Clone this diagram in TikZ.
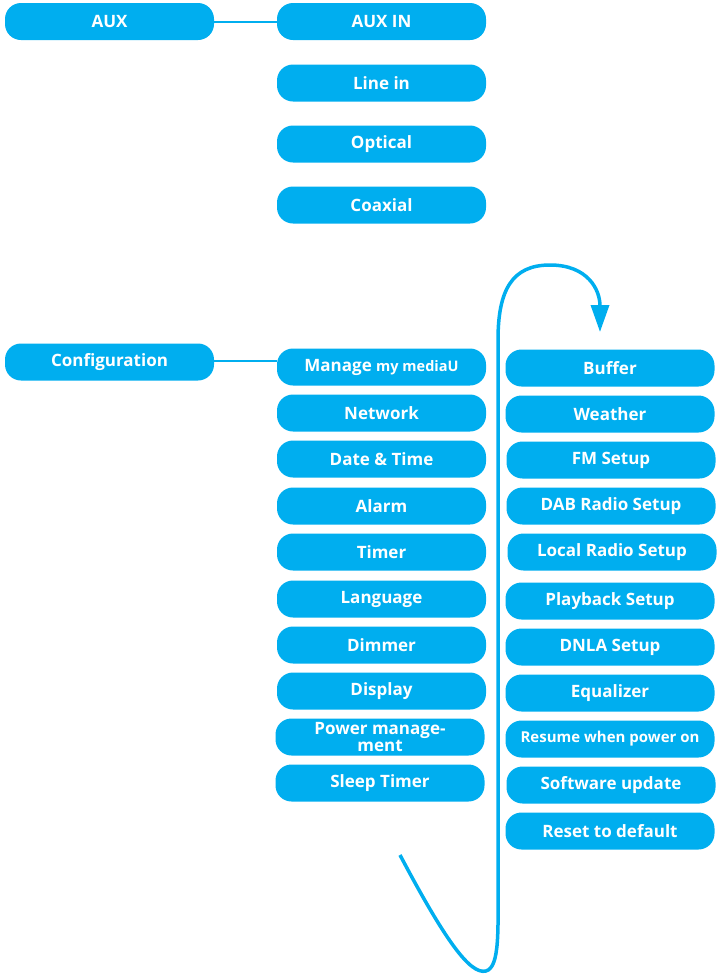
\documentclass[tikz,border=0pt]{standalone}
\usepackage{fontspec}
\setmainfont{Open Sans}
\usetikzlibrary{arrows.meta}
\definecolor{cy}{RGB}{0,174,239}
\begin{document}
\begin{tikzpicture}[x=1pt,y=-1pt,
  menu/.style={fill=cy,draw=none,rounded corners=16pt,minimum width=209pt,minimum height=37pt,inner sep=0pt,text=white,font=\bfseries\fontsize{17}{17}\selectfont,align=center},
  link/.style={draw=cy,line width=2pt}]
\useasboundingbox (0,0) rectangle (724,975);
% AUX group
\node[menu] (aux) at (109.5,21.5) {AUX};
\node[menu] (auxin) at (381.5,21.5) {AUX IN};
\node[menu] (linein) at (381.5,83) {Line in};
\node[menu] (optical) at (381.5,144) {Optical};
\node[menu] (coaxial) at (381.5,205) {Coaxial};
\draw[link] (aux.east) -- (auxin.west);
% Configuration
\node[menu] (config) at (109.5,362) {Configuration};
\node[menu] (manage) at (381.5,367) {Manage {\fontsize{14.5}{15}\selectfont my mediaU}};
\node[menu] (network) at (381.5,413) {Network};
\node[menu] (datetime) at (381.5,459) {Date \& Time};
\node[menu] (alarm) at (381.5,506) {Alarm};
\node[menu] (timer) at (381.5,552) {Timer};
\node[menu] (language) at (381.5,599) {Language};
\node[menu] (dimmer) at (381.5,645) {Dimmer};
\node[menu] (display) at (381.5,691) {Display};
\node[menu,font=\bfseries\fontsize{17}{14.5}\selectfont] (power) at (380,737) {Power manage-\\ment};
\node[menu] (sleep) at (380,783) {Sleep Timer};
\draw[link] ([yshift=1pt]config.east) -- ([yshift=1pt]config.east -| manage.west);
% right column
\node[menu] (buffer) at (610,368) {Buffer};
\node[menu] (weather) at (610,414) {Weather};
\node[menu] (fm) at (611,460) {FM Setup};
\node[menu] (dab) at (611,506) {DAB Radio Setup};
\node[menu] (local) at (612,552) {Local Radio Setup};
\node[menu] (playback) at (610,601) {Playback Setup};
\node[menu] (dnla) at (610,647) {DNLA Setup};
\node[menu] (equalizer) at (610,693) {Equalizer};
\node[menu,font=\bfseries\fontsize{15}{15}\selectfont] (resume) at (610,739) {Resume when power on};
\node[menu] (software) at (611,785) {Software update};
\node[menu] (reset) at (610,831) {Reset to default};
% continuation arrow
\coordinate (cstart) at (400,855);
\coordinate (cend) at (600,332);
\draw[draw=cy,line width=3.5pt,-{Triangle[length=27pt,width=18pt]}]
  (cstart) .. controls (445,940) and (470,975) .. (486,971)
  .. controls (500,967) and (498,930) .. (498,880) -- (498,340)
  .. controls (498,290) and (512,265) .. (550,265)
  .. controls (588,265) and (600,290) .. (cend);
\end{tikzpicture}
\end{document}
